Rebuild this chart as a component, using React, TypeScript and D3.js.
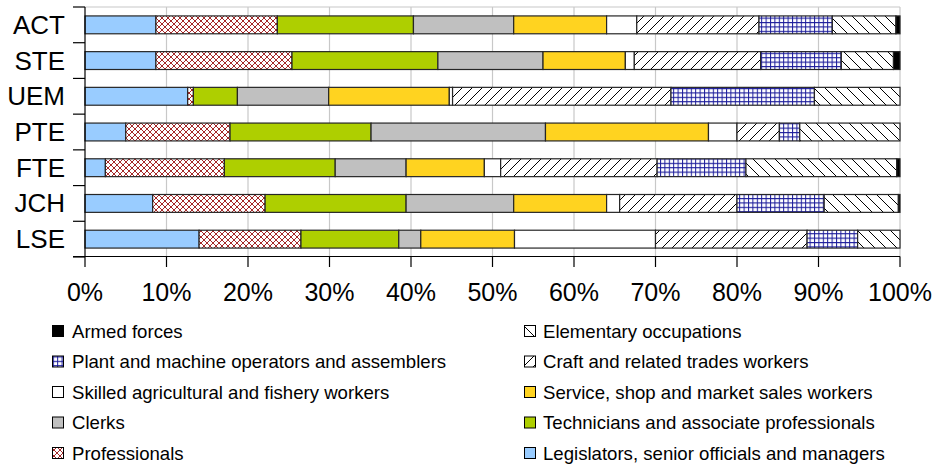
import React from 'react';
import * as d3 from 'd3';

const categories = ['ACT', 'STE', 'UEM', 'PTE', 'FTE', 'JCH', 'LSE'];
const xTicks = [0, 0.1, 0.2, 0.3, 0.4, 0.5, 0.6, 0.7, 0.8, 0.9, 1];

const legislators = [8.7, 8.7, 12.6, 5.0, 2.5, 8.3, 14.0];
const professionals = [14.9, 16.7, 0.7, 12.8, 14.6, 13.8, 12.5];
const technicians = [16.7, 17.9, 5.4, 17.3, 13.6, 17.3, 12.0];
const clerks = [12.3, 12.9, 11.2, 21.4, 8.7, 13.2, 2.7];
const service = [11.4, 10.1, 14.8, 20.0, 9.6, 11.4, 11.5];
const skilled = [3.7, 1.1, 0.4, 3.5, 2.0, 1.6, 17.3];
const craft = [15.0, 15.5, 26.8, 5.2, 19.2, 14.4, 18.6];
const plant = [9.0, 9.9, 17.6, 2.5, 10.9, 10.7, 6.2];
const elementary = [7.8, 6.4, 10.5, 12.3, 18.5, 9.1, 5.2];
const armed = [0.5, 0.8, 0, 0, 0.4, 0.2, 0];

const seriesKeys = ['leg', 'prof', 'tech', 'clerk', 'serv', 'skill', 'craft', 'plant', 'elem', 'armed'];
const seriesLabels: Record<string, string> = {
  leg: 'Legislators, senior officials and managers',
  prof: 'Professionals',
  tech: 'Technicians and associate professionals',
  clerk: 'Clerks',
  serv: 'Service, shop and market sales workers',
  skill: 'Skilled agricultural and fishery workers',
  craft: 'Craft and related trades workers',
  plant: 'Plant and machine operators and assemblers',
  elem: 'Elementary occupations',
  armed: 'Armed forces',
};
const seriesValues: Record<string, number[]> = {
  leg: legislators, prof: professionals, tech: technicians, clerk: clerks, serv: service,
  skill: skilled, craft: craft, plant: plant, elem: elementary, armed: armed,
};
const legendLeft = ['armed', 'plant', 'skill', 'clerk', 'prof'];
const legendRight = ['elem', 'craft', 'serv', 'tech', 'leg'];

const fills: Record<string, string> = {
  leg: '#99CCFF',
  prof: 'url(#pProf)',
  tech: '#AECF00',
  clerk: '#C0C0C0',
  serv: '#FFD320',
  skill: '#FFFFFF',
  craft: 'url(#pCraft)',
  plant: 'url(#pPlant)',
  elem: 'url(#pElem)',
  armed: '#000000',
};

const W = 934, H = 466;
const left = 85, right = 900, top = 7, bottom = 257;

export default function App() {
  const rows = categories.map((c, i) => {
    const r: any = { cat: c };
    seriesKeys.forEach(k => (r[k] = seriesValues[k][i]));
    return r;
  });
  const stacked = d3.stack<any>().keys(seriesKeys).offset(d3.stackOffsetExpand)(rows);
  const x = d3.scaleLinear().domain([0, 1]).range([left, right]);
  const y = d3.scaleBand<string>().domain(categories).range([top, bottom]).paddingInner(0.5).paddingOuter(0.25);
  const step = y.step();
  const font = "'Liberation Sans', Arial, sans-serif";

  const legendRow = (k: string, i: number, mx: number, tx: number) => {
    const cy = 331 + i * 30.5;
    return (
      <g key={k}>
        <rect x={mx + 0.5} y={cy - 5.5} width={11} height={11} fill={fills[k]} stroke="#000" strokeWidth={1} />
        <text x={tx} y={cy} dominantBaseline="central" fontSize={18.6} fontFamily={font} fill="#000">{seriesLabels[k]}</text>
      </g>
    );
  };

  return (
    <svg width={W} height={H} style={{ position: 'absolute', left: 0, top: 0, background: '#fff' }}>
      <defs>
        <pattern id="pProf" patternUnits="userSpaceOnUse" width={6} height={6}>
          <rect width={6} height={6} fill="#fff" />
          <path d="M0,0 L6,6 M0,6 L6,0" stroke="#A52828" strokeWidth={1} />
        </pattern>
        <pattern id="pCraft" patternUnits="userSpaceOnUse" width={10} height={10}>
          <rect width={10} height={10} fill="#fff" />
          <path d="M0,10 L10,0 M-1,1 L1,-1 M9,11 L11,9" stroke="#000" strokeWidth={1} />
        </pattern>
        <pattern id="pElem" patternUnits="userSpaceOnUse" width={11} height={11}>
          <rect width={11} height={11} fill="#fff" />
          <path d="M0,0 L11,11 M-1,10 L1,12 M10,-1 L12,1" stroke="#000" strokeWidth={1} />
        </pattern>
        <pattern id="pPlant" patternUnits="userSpaceOnUse" width={4.4} height={4.4}>
          <rect width={4.4} height={4.4} fill="#fff" />
          <path d="M0.5,0 L0.5,4.4 M0,0.5 L4.4,0.5" stroke="#1A1A9A" strokeWidth={1} />
        </pattern>
      </defs>

      {/* gridlines */}
      {xTicks.slice(1).map(t => (
        <line key={t} x1={x(t)} x2={x(t)} y1={top} y2={bottom} stroke="#C8C8C8" strokeWidth={1.2} />
      ))}
      <line x1={left} x2={right} y1={top} y2={top} stroke="#C8C8C8" strokeWidth={1.2} />

      {/* bars */}
      {stacked.map(s => (
        <g key={s.key}>
          {s.map((d, i) => {
            const w = x(d[1]) - x(d[0]);
            if (w <= 0.01) return null;
            return (
              <rect key={i} x={x(d[0])} y={y(categories[i])!} width={w} height={y.bandwidth()}
                fill={fills[s.key]} stroke="#262626" strokeWidth={1.2} />
            );
          })}
        </g>
      ))}

      {/* axes */}
      <line x1={73} x2={right} y1={bottom - 0.5} y2={bottom - 0.5} stroke="#000" strokeWidth={1.2} />
      <line x1={left} x2={left} y1={top} y2={bottom} stroke="#000" strokeWidth={1.2} />
      {d3.range(categories.length + 1).map(i => (
        <line key={i} x1={73} x2={left} y1={top + i * step} y2={top + i * step} stroke="#000" strokeWidth={1.2} />
      ))}
      {xTicks.map(t => (
        <line key={t} x1={x(t)} x2={x(t)} y1={bottom - 0.5} y2={267} stroke="#000" strokeWidth={1.2} />
      ))}
      {xTicks.map(t => (
        <text key={t} x={x(t)} y={301} textAnchor="middle" fontSize={25} fontFamily={font} fill="#000">
          {d3.format('.0%')(t)}
        </text>
      ))}
      {categories.map(c => (
        <text key={c} x={65} y={y(c)! + y.bandwidth() / 2} textAnchor="end" dominantBaseline="central"
          fontSize={26} fontFamily={font} fill="#000">{c}</text>
      ))}

      {/* legend */}
      {legendLeft.map((k, i) => legendRow(k, i, 52, 72))}
      {legendRight.map((k, i) => legendRow(k, i, 524, 543))}
    </svg>
  );
}
